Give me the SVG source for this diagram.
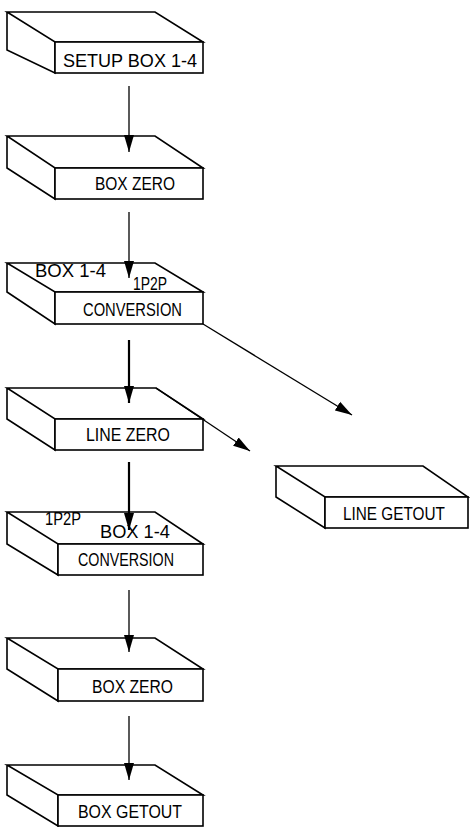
<svg xmlns="http://www.w3.org/2000/svg" width="470" height="827" viewBox="0 0 470 827">
<style>
.bx{fill:#fff;stroke:#000;stroke-width:1.6;stroke-linejoin:miter}
.t{font-family:"Liberation Sans",Arial,sans-serif;font-size:18px;fill:#000}
.ln{stroke:#000;stroke-width:1.3;fill:none}
.lt{stroke:#000;stroke-width:2.2;fill:none}
</style>
<defs>
<marker id="ah" markerUnits="userSpaceOnUse" markerWidth="18" markerHeight="12" refX="17" refY="6" orient="auto">
<path d="M0,1 L17,6 L0,11 z" fill="#000"/>
</marker>
</defs>
<rect width="470" height="827" fill="#fff"/>

<g id="box1">
<path class="bx" d="M7,12 L155,12 L203,42 L55,42 Z M7,12 L7,50 L55,73 L55,42"/>
<rect class="bx" x="55" y="42" width="148" height="31"/>
<text class="t" x="63" y="67" textLength="134" lengthAdjust="spacingAndGlyphs">SETUP BOX 1-4</text>
</g>

<g id="box2">
<path class="bx" d="M7,136 L155,136 L203,168 L55,168 Z M7,136 L7,168 L55,199 L55,168"/>
<rect class="bx" x="55" y="168" width="148" height="31"/>
<text class="t" x="95" y="190" textLength="80" lengthAdjust="spacingAndGlyphs">BOX ZERO</text>
</g>

<g id="box3">
<path class="bx" d="M7,263 L155,263 L203,292 L55,292 Z M7,263 L7,292 L55,324 L55,292"/>
<rect class="bx" x="55" y="292" width="148" height="32"/>
<text class="t" x="35" y="277" textLength="71" lengthAdjust="spacingAndGlyphs">BOX 1-4</text>
<text class="t" x="133" y="290" textLength="34" lengthAdjust="spacingAndGlyphs">1P2P</text>
<text class="t" x="83" y="316" textLength="99" lengthAdjust="spacingAndGlyphs">CONVERSION</text>
</g>

<g id="box4">
<path class="bx" d="M7,388 L156,388 L203,419 L55,419 Z M7,388 L7,419 L55,450 L55,419"/>
<rect class="bx" x="55" y="419" width="148" height="31"/>
<text class="t" x="86" y="441" textLength="84" lengthAdjust="spacingAndGlyphs">LINE ZERO</text>
</g>

<g id="box5">
<path class="bx" d="M276,466 L423,466 L468,497 L325,497 Z M276,466 L276,497 L325,528 L325,497"/>
<rect class="bx" x="325" y="497" width="143" height="31"/>
<text class="t" x="343" y="520" textLength="102" lengthAdjust="spacingAndGlyphs">LINE GETOUT</text>
</g>

<g id="box6">
<path class="bx" d="M7,512 L155,512 L203,544 L58,544 Z M7,512 L7,544 L58,575 L58,544"/>
<rect class="bx" x="58" y="544" width="145" height="31"/>
<text class="t" x="45" y="525" textLength="36" lengthAdjust="spacingAndGlyphs">1P2P</text>
<text class="t" x="100" y="538" textLength="70" lengthAdjust="spacingAndGlyphs">BOX 1-4</text>
<text class="t" x="78" y="566" textLength="96" lengthAdjust="spacingAndGlyphs">CONVERSION</text>
</g>

<g id="box7">
<path class="bx" d="M7,638 L155,638 L203,669 L58,669 Z M7,638 L7,669 L58,701 L58,669"/>
<rect class="bx" x="58" y="669" width="145" height="32"/>
<text class="t" x="92" y="693" textLength="81" lengthAdjust="spacingAndGlyphs">BOX ZERO</text>
</g>

<g id="box8">
<path class="bx" d="M7,765 L155,765 L203,795 L58,795 Z M7,765 L7,795 L58,826 L58,795"/>
<rect class="bx" x="58" y="795" width="145" height="31"/>
<text class="t" x="78" y="818" textLength="104" lengthAdjust="spacingAndGlyphs">BOX GETOUT</text>
</g>

<g id="connectors">
<line class="ln" x1="129" y1="86" x2="129" y2="152" marker-end="url(#ah)"/>
<line class="ln" x1="129" y1="212" x2="129" y2="278" marker-end="url(#ah)"/>
<line class="lt" x1="129" y1="340" x2="129" y2="403" marker-end="url(#ah)"/>
<line class="lt" x1="129" y1="462" x2="129" y2="530" marker-end="url(#ah)"/>
<line class="ln" x1="129" y1="590" x2="129" y2="652" marker-end="url(#ah)"/>
<line class="ln" x1="129" y1="716" x2="129" y2="780" marker-end="url(#ah)"/>
<line class="ln" x1="203" y1="324" x2="352" y2="415" marker-end="url(#ah)"/>
<line class="ln" x1="156" y1="388" x2="250" y2="451" marker-end="url(#ah)"/>
</g>
</svg>
